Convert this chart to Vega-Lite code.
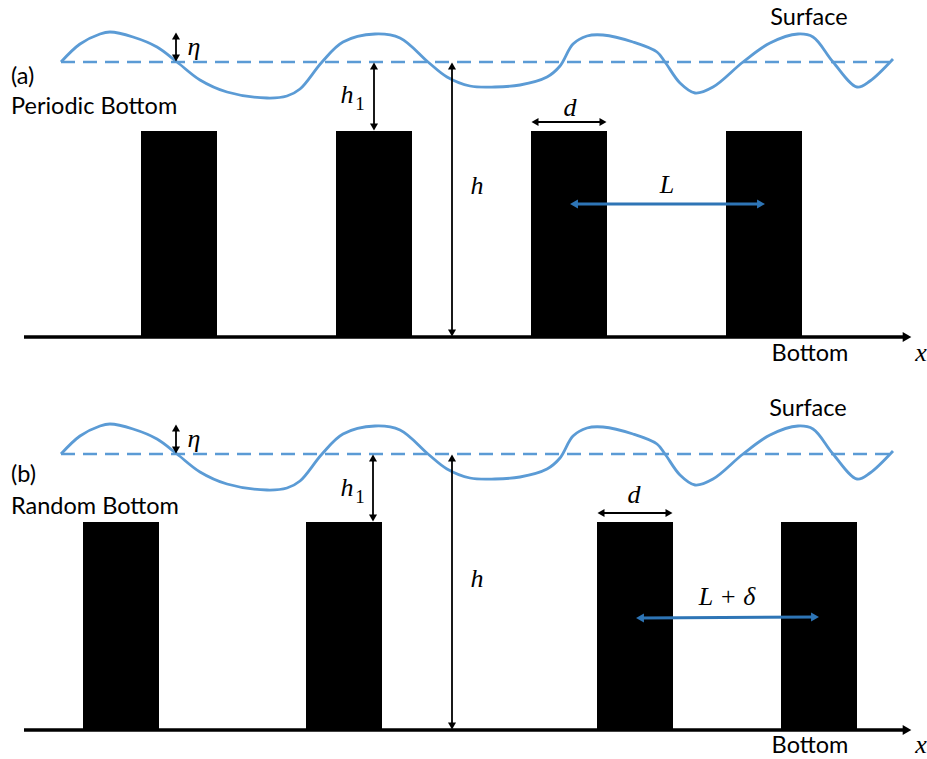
{
  "$schema": "https://vega.github.io/schema/vega-lite/v6.json",
  "width": 927,
  "height": 759,
  "autosize": {"type": "fit", "contains": "padding"},
  "padding": 0,
  "background": "white",
  "config": {"view": {"stroke": null}},
  "datasets": {
    "blocks": [
      {"panel": "a", "x": 141, "x2": 217, "y": 131, "y2": 338},
      {"panel": "a", "x": 336, "x2": 412, "y": 131, "y2": 338},
      {"panel": "a", "x": 531, "x2": 607, "y": 131, "y2": 338},
      {"panel": "a", "x": 726, "x2": 802, "y": 131, "y2": 338},
      {"panel": "b", "x": 83, "x2": 159, "y": 522, "y2": 731},
      {"panel": "b", "x": 306, "x2": 382, "y": 522, "y2": 731},
      {"panel": "b", "x": 597, "x2": 673, "y": 522, "y2": 731},
      {"panel": "b", "x": 781, "x2": 857, "y": 522, "y2": 731}
    ],
    "seabed": [
      {"panel": "a", "x": 24, "x2": 904, "y": 337},
      {"panel": "b", "x": 24, "x2": 904, "y": 730}
    ],
    "still": [
      {"panel": "a", "x": 61, "x2": 890, "y": 62},
      {"panel": "b", "x": 61, "x2": 890, "y": 454}
    ],
    "wave": [
      {"panel": "a", "x": 61, "y": 62}, {"panel": "a", "x": 80, "y": 44}, {"panel": "a", "x": 100, "y": 34}, {"panel": "a", "x": 110, "y": 32},
      {"panel": "a", "x": 133, "y": 37}, {"panel": "a", "x": 157, "y": 47}, {"panel": "a", "x": 177, "y": 62}, {"panel": "a", "x": 200, "y": 80},
      {"panel": "a", "x": 227, "y": 92}, {"panel": "a", "x": 267, "y": 98}, {"panel": "a", "x": 287, "y": 96}, {"panel": "a", "x": 300, "y": 89},
      {"panel": "a", "x": 322, "y": 62}, {"panel": "a", "x": 343, "y": 42}, {"panel": "a", "x": 375, "y": 34}, {"panel": "a", "x": 400, "y": 38},
      {"panel": "a", "x": 428, "y": 62}, {"panel": "a", "x": 447, "y": 77}, {"panel": "a", "x": 470, "y": 86}, {"panel": "a", "x": 495, "y": 87},
      {"panel": "a", "x": 520, "y": 85}, {"panel": "a", "x": 547, "y": 77}, {"panel": "a", "x": 560, "y": 66}, {"panel": "a", "x": 573, "y": 44},
      {"panel": "a", "x": 587, "y": 36}, {"panel": "a", "x": 603, "y": 35}, {"panel": "a", "x": 633, "y": 42}, {"panel": "a", "x": 657, "y": 52},
      {"panel": "a", "x": 665, "y": 62}, {"panel": "a", "x": 680, "y": 83}, {"panel": "a", "x": 695, "y": 93}, {"panel": "a", "x": 713, "y": 87},
      {"panel": "a", "x": 743, "y": 62}, {"panel": "a", "x": 770, "y": 43}, {"panel": "a", "x": 798, "y": 34}, {"panel": "a", "x": 813, "y": 37},
      {"panel": "a", "x": 833, "y": 62}, {"panel": "a", "x": 857, "y": 87}, {"panel": "a", "x": 870, "y": 81}, {"panel": "a", "x": 893, "y": 59},
      {"panel": "b", "x": 61, "y": 454}, {"panel": "b", "x": 80, "y": 436}, {"panel": "b", "x": 100, "y": 426}, {"panel": "b", "x": 110, "y": 424},
      {"panel": "b", "x": 133, "y": 429}, {"panel": "b", "x": 157, "y": 439}, {"panel": "b", "x": 177, "y": 454}, {"panel": "b", "x": 200, "y": 472},
      {"panel": "b", "x": 227, "y": 484}, {"panel": "b", "x": 267, "y": 490}, {"panel": "b", "x": 287, "y": 488}, {"panel": "b", "x": 300, "y": 481},
      {"panel": "b", "x": 322, "y": 454}, {"panel": "b", "x": 343, "y": 434}, {"panel": "b", "x": 375, "y": 426}, {"panel": "b", "x": 400, "y": 430},
      {"panel": "b", "x": 428, "y": 454}, {"panel": "b", "x": 447, "y": 469}, {"panel": "b", "x": 470, "y": 478}, {"panel": "b", "x": 495, "y": 479},
      {"panel": "b", "x": 520, "y": 477}, {"panel": "b", "x": 547, "y": 469}, {"panel": "b", "x": 560, "y": 458}, {"panel": "b", "x": 573, "y": 436},
      {"panel": "b", "x": 587, "y": 428}, {"panel": "b", "x": 603, "y": 427}, {"panel": "b", "x": 633, "y": 434}, {"panel": "b", "x": 657, "y": 444},
      {"panel": "b", "x": 665, "y": 454}, {"panel": "b", "x": 680, "y": 475}, {"panel": "b", "x": 695, "y": 485}, {"panel": "b", "x": 713, "y": 479},
      {"panel": "b", "x": 743, "y": 454}, {"panel": "b", "x": 770, "y": 435}, {"panel": "b", "x": 798, "y": 426}, {"panel": "b", "x": 813, "y": 429},
      {"panel": "b", "x": 833, "y": 454}, {"panel": "b", "x": 857, "y": 479}, {"panel": "b", "x": 870, "y": 473}, {"panel": "b", "x": 893, "y": 451}
    ],
    "dims": [
      {"name": "eta a", "x": 176, "x2": 176, "y": 35, "y2": 59},
      {"name": "h1 a", "x": 374, "x2": 374, "y": 65, "y2": 128},
      {"name": "h a", "x": 452, "x2": 452, "y": 65, "y2": 334},
      {"name": "d a", "x": 534, "x2": 604, "y": 122, "y2": 122},
      {"name": "eta b", "x": 176, "x2": 176, "y": 427, "y2": 451},
      {"name": "h1 b", "x": 373, "x2": 373, "y": 457, "y2": 519},
      {"name": "h b", "x": 452, "x2": 452, "y": 457, "y2": 727},
      {"name": "d b", "x": 600, "x2": 670, "y": 513, "y2": 513}
    ],
    "spans": [
      {"name": "L", "x": 574, "x2": 761, "y": 204, "y2": 204},
      {"name": "L+delta", "x": 640, "x2": 815, "y": 618, "y2": 617}
    ],
    "heads": [
      {"x": 176, "y": 36, "dir": "up", "kind": "dim"},
      {"x": 176, "y": 58, "dir": "down", "kind": "dim"},
      {"x": 374, "y": 66, "dir": "up", "kind": "dim"},
      {"x": 374, "y": 127, "dir": "down", "kind": "dim"},
      {"x": 452, "y": 66, "dir": "up", "kind": "dim"},
      {"x": 452, "y": 333, "dir": "down", "kind": "dim"},
      {"x": 535, "y": 122, "dir": "left", "kind": "dim"},
      {"x": 603, "y": 122, "dir": "right", "kind": "dim"},
      {"x": 574, "y": 204, "dir": "left", "kind": "span"},
      {"x": 761, "y": 204, "dir": "right", "kind": "span"},
      {"x": 907, "y": 337, "dir": "right", "kind": "axis"},
      {"x": 176, "y": 428, "dir": "up", "kind": "dim"},
      {"x": 176, "y": 450, "dir": "down", "kind": "dim"},
      {"x": 373, "y": 458, "dir": "up", "kind": "dim"},
      {"x": 373, "y": 518, "dir": "down", "kind": "dim"},
      {"x": 452, "y": 458, "dir": "up", "kind": "dim"},
      {"x": 452, "y": 726, "dir": "down", "kind": "dim"},
      {"x": 601, "y": 513, "dir": "left", "kind": "dim"},
      {"x": 669, "y": 513, "dir": "right", "kind": "dim"},
      {"x": 640, "y": 618, "dir": "left", "kind": "span"},
      {"x": 815, "y": 617, "dir": "right", "kind": "span"},
      {"x": 907, "y": 730, "dir": "right", "kind": "axis"}
    ],
    "math": [
      {"x": 194, "y": 47, "label": "η"},
      {"x": 347, "y": 95, "label": "h"},
      {"x": 477, "y": 186, "label": "h"},
      {"x": 570, "y": 108, "label": "d"},
      {"x": 667, "y": 185, "label": "L"},
      {"x": 921, "y": 353, "label": "x"},
      {"x": 194, "y": 439, "label": "η"},
      {"x": 347, "y": 488, "label": "h"},
      {"x": 477, "y": 579, "label": "h"},
      {"x": 634, "y": 495, "label": "d"},
      {"x": 727, "y": 597, "label": "L + δ"},
      {"x": 921, "y": 745, "label": "x"}
    ],
    "subs": [
      {"x": 360, "y": 104, "label": "1"},
      {"x": 360, "y": 497, "label": "1"}
    ],
    "leftwords": [
      {"x": 11, "y": 77, "label": "(a)"},
      {"x": 11, "y": 107, "label": "Periodic Bottom"},
      {"x": 11, "y": 475, "label": "(b)"},
      {"x": 11, "y": 507, "label": "Random Bottom"}
    ],
    "words": [
      {"x": 809, "y": 18, "label": "Surface"},
      {"x": 810, "y": 354, "label": "Bottom"},
      {"x": 808, "y": 409, "label": "Surface"},
      {"x": 810, "y": 746, "label": "Bottom"}
    ]
  },
  "layer": [
    {
      "data": {"name": "blocks"},
      "mark": {"type": "rect", "color": "black"},
      "encoding": {
        "x": {"field": "x", "type": "quantitative", "scale": {"domain": [0, 927], "nice": false, "zero": false}, "axis": null},
        "x2": {"field": "x2"},
        "y": {"field": "y", "type": "quantitative", "scale": {"domain": [0, 759], "nice": false, "zero": false, "reverse": true}, "axis": null},
        "y2": {"field": "y2"}
      }
    },
    {
      "data": {"name": "seabed"},
      "mark": {"type": "rule", "color": "black", "strokeWidth": 3.5},
      "encoding": {
        "x": {"field": "x", "type": "quantitative", "axis": null},
        "x2": {"field": "x2"},
        "y": {"field": "y", "type": "quantitative", "axis": null}
      }
    },
    {
      "data": {"name": "still"},
      "mark": {"type": "rule", "color": "#5B9BD5", "strokeWidth": 2.5, "strokeDash": [14, 8]},
      "encoding": {
        "x": {"field": "x", "type": "quantitative", "axis": null},
        "x2": {"field": "x2"},
        "y": {"field": "y", "type": "quantitative", "axis": null}
      }
    },
    {
      "data": {"name": "wave"},
      "mark": {"type": "line", "color": "#5B9BD5", "strokeWidth": 2.8, "interpolate": "catmull-rom"},
      "encoding": {
        "x": {"field": "x", "type": "quantitative", "axis": null},
        "y": {"field": "y", "type": "quantitative", "axis": null},
        "detail": {"field": "panel", "type": "nominal"}
      }
    },
    {
      "data": {"name": "dims"},
      "mark": {"type": "rule", "color": "black", "strokeWidth": 1.8},
      "encoding": {
        "x": {"field": "x", "type": "quantitative", "axis": null},
        "x2": {"field": "x2"},
        "y": {"field": "y", "type": "quantitative", "axis": null},
        "y2": {"field": "y2"}
      }
    },
    {
      "data": {"name": "spans"},
      "mark": {"type": "rule", "color": "#2E75B6", "strokeWidth": 3},
      "encoding": {
        "x": {"field": "x", "type": "quantitative", "axis": null},
        "x2": {"field": "x2"},
        "y": {"field": "y", "type": "quantitative", "axis": null},
        "y2": {"field": "y2"}
      }
    },
    {
      "data": {"name": "heads"},
      "mark": {"type": "point", "filled": true, "opacity": 1, "strokeWidth": 0},
      "encoding": {
        "x": {"field": "x", "type": "quantitative", "axis": null},
        "y": {"field": "y", "type": "quantitative", "axis": null},
        "shape": {"field": "dir", "type": "nominal", "scale": {"domain": ["up", "down", "left", "right"], "range": ["triangle-up", "triangle-down", "triangle-left", "triangle-right"]}, "legend": null},
        "size": {"field": "kind", "type": "nominal", "scale": {"domain": ["dim", "span", "axis"], "range": [65, 100, 130]}, "legend": null},
        "color": {"field": "kind", "type": "nominal", "scale": {"domain": ["dim", "span", "axis"], "range": ["black", "#2E75B6", "black"]}, "legend": null}
      }
    },
    {
      "data": {"name": "math"},
      "mark": {"type": "text", "font": "Liberation Serif", "fontStyle": "italic", "fontSize": 26, "align": "center", "baseline": "middle", "color": "black"},
      "encoding": {
        "x": {"field": "x", "type": "quantitative", "axis": null},
        "y": {"field": "y", "type": "quantitative", "axis": null},
        "text": {"field": "label", "type": "nominal"}
      }
    },
    {
      "data": {"name": "subs"},
      "mark": {"type": "text", "font": "Liberation Serif", "fontSize": 19, "align": "center", "baseline": "middle", "color": "black"},
      "encoding": {
        "x": {"field": "x", "type": "quantitative", "axis": null},
        "y": {"field": "y", "type": "quantitative", "axis": null},
        "text": {"field": "label", "type": "nominal"}
      }
    },
    {
      "data": {"name": "leftwords"},
      "mark": {"type": "text", "font": "Lato", "fontSize": 23.5, "align": "left", "baseline": "middle", "color": "black"},
      "encoding": {
        "x": {"field": "x", "type": "quantitative", "axis": null},
        "y": {"field": "y", "type": "quantitative", "axis": null},
        "text": {"field": "label", "type": "nominal"}
      }
    },
    {
      "data": {"name": "words"},
      "mark": {"type": "text", "font": "Lato", "fontSize": 23.5, "align": "center", "baseline": "middle", "color": "black"},
      "encoding": {
        "x": {"field": "x", "type": "quantitative", "axis": null},
        "y": {"field": "y", "type": "quantitative", "axis": null},
        "text": {"field": "label", "type": "nominal"}
      }
    }
  ]
}
